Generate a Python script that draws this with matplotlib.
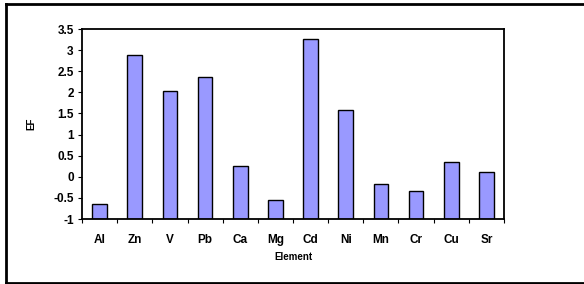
import numpy as np
import matplotlib
matplotlib.use("Agg")
import matplotlib.pyplot as plt
from matplotlib.lines import Line2D

# enrichment factors per element
elements = ["Al", "Zn", "V", "Pb", "Ca", "Mg", "Cd", "Ni", "Mn", "Cr", "Cu", "Sr"]
ef_values = [-0.65, 2.88, 2.02, 2.36, 0.26, -0.55, 3.26, 1.58, -0.18, -0.34, 0.34, 0.12]
y_ticks = [-1, -0.5, 0, 0.5, 1, 1.5, 2, 2.5, 3, 3.5]
y_labels = ["-1", "-0.5", "0", "0.5", "1", "1.5", "2", "2.5", "3", "3.5"]

plt.rcParams['font.family'] = ['Liberation Sans', 'DejaVu Sans']
plt.rcParams['font.weight'] = 'bold'

W, H = 584, 284
fig = plt.figure(figsize=(W / 100, H / 100), dpi=100)
ax = fig.add_axes([82 / W, 1 - 219 / H, (504 - 82) / W, (219 - 29) / H])

x = np.arange(len(elements))
base = -1
heights = [v - base for v in ef_values]
ax.bar(x, heights, bottom=base, width=0.42, color="#9999ff",
       edgecolor="black", linewidth=1.0)

ax.set_xlim(-0.5, len(elements) - 0.5)
ax.set_ylim(-1, 3.5)
ax.set_yticks(y_ticks)
ax.set_yticklabels(y_labels, fontsize=8.5, fontweight='bold')

# ticks between categories, labels centered under bars
ax.set_xticks(np.arange(len(elements) + 1) - 0.5)
ax.set_xticklabels([])
ax.set_xticks(x, minor=True)
ax.set_xticklabels(elements, minor=True, fontsize=8.5, fontweight='bold')
ax.tick_params(axis='x', which='minor', length=0, pad=11)
ax.tick_params(axis='x', which='major', length=3, width=0.8, direction='out')
ax.tick_params(axis='y', length=3, width=0.8, direction='out', pad=3)

for s in ax.spines.values():
    s.set_linewidth(1.3)

ax.set_xlabel("Element", fontsize=7, fontweight='bold', labelpad=4)
ax.set_ylabel("EF", fontsize=7, fontweight='bold', labelpad=12)

# outer frame (left, top, bottom)
lw = 2.0
fig.add_artist(Line2D([6 / W, 6 / W], [0, 1 - 3.5 / H], transform=fig.transFigure, color="black", lw=lw))
fig.add_artist(Line2D([6 / W, 1], [1 - 3.5 / H, 1 - 3.5 / H], transform=fig.transFigure, color="black", lw=lw))
fig.add_artist(Line2D([6 / W, 1], [1.5 / H, 1.5 / H], transform=fig.transFigure, color="black", lw=lw))

fig.savefig("out.png", dpi=100)
